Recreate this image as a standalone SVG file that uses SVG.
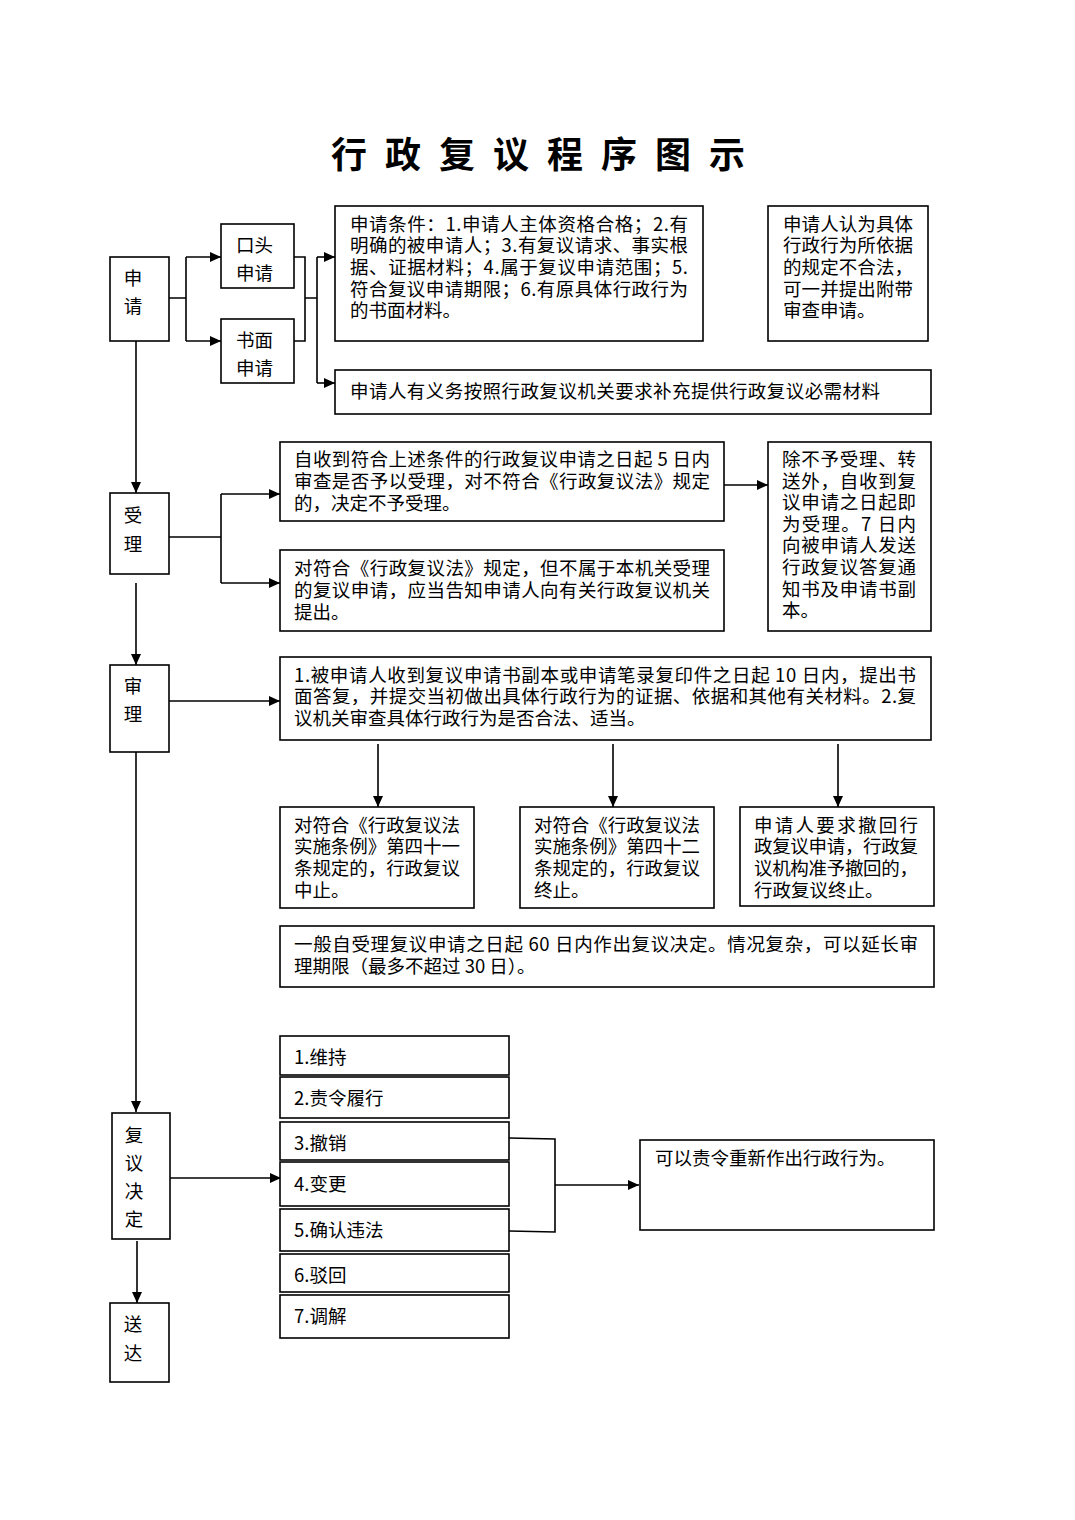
<svg xmlns="http://www.w3.org/2000/svg" width="1075" height="1520" viewBox="0 0 1075 1520">
<style>
.b{fill:#fff;stroke:#000;stroke-width:1.6}
.t{font-family:"Noto Sans CJK SC","Noto Sans",sans-serif;font-size:18.5px;fill:#000}
.c{stroke:#000;stroke-width:1.6;fill:none}
.title{font-family:"Noto Sans CJK SC",sans-serif;font-size:36px;font-weight:bold;fill:#000}
</style>
<defs>
<marker id="a" markerUnits="userSpaceOnUse" markerWidth="12" markerHeight="10" refX="11" refY="5" orient="auto">
<path d="M0,0 L11,5 L0,10 Z" fill="#000"/>
</marker>
</defs>
<rect width="1075" height="1520" fill="#fff"/>
<text class="title" x="331" y="168" textLength="414" lengthAdjust="spacing">行 政 复 议 程 序 图 示</text>

<g id="connectors">
<path class="c" d="M169,298 H186 M186,257 V341"/>
<path class="c" d="M186,257 H221" marker-end="url(#a)"/>
<path class="c" d="M186,341 H221" marker-end="url(#a)"/>
<path class="c" d="M294,257 H305 V341 H294 M305,298 H317 M317,257 V383"/>
<path class="c" d="M317,257 H335" marker-end="url(#a)"/>
<path class="c" d="M317,383 H335" marker-end="url(#a)"/>
<path class="c" d="M136,341 V493" marker-end="url(#a)"/>
<path class="c" d="M169,537 H221 M221,494 V583"/>
<path class="c" d="M221,494 H280" marker-end="url(#a)"/>
<path class="c" d="M221,583 H280" marker-end="url(#a)"/>
<path class="c" d="M724,485 H768" marker-end="url(#a)"/>
<path class="c" d="M136,583 V665" marker-end="url(#a)"/>
<path class="c" d="M169,701 H280" marker-end="url(#a)"/>
<path class="c" d="M378,744 V807" marker-end="url(#a)"/>
<path class="c" d="M613,744 V807" marker-end="url(#a)"/>
<path class="c" d="M838,744 V807" marker-end="url(#a)"/>
<path class="c" d="M136,752 V1112" marker-end="url(#a)"/>
<path class="c" d="M170,1178 H281" marker-end="url(#a)"/>
<path class="c" d="M509,1138 L555,1139 V1232 L509,1231"/>
<path class="c" d="M555,1185 H639" marker-end="url(#a)"/>
<path class="c" d="M137,1241 V1303" marker-end="url(#a)"/>
</g>

<g id="n-shenqing"><rect class="b" x="110" y="257" width="59" height="84"/>
<text class="t" x="133" y="285" text-anchor="middle">申</text><text class="t" x="133" y="313" text-anchor="middle">请</text></g>
<g id="n-koutou"><rect class="b" x="221" y="224" width="73" height="64"/>
<text class="t" x="236" y="252">口头</text><text class="t" x="236" y="280">申请</text></g>
<g id="n-shumian"><rect class="b" x="221" y="319" width="73" height="64"/>
<text class="t" x="236" y="347">书面</text><text class="t" x="236" y="375">申请</text></g>
<g id="n-tiaojian"><rect class="b" x="335" y="206" width="368" height="135"/>
<text class="t" x="350" y="231" textLength="338" lengthAdjust="spacing">申请条件：1.申请人主体资格合格；2.有</text>
<text class="t" x="350" y="252" textLength="338" lengthAdjust="spacing">明确的被申请人；3.有复议请求、事实根</text>
<text class="t" x="350" y="274" textLength="338" lengthAdjust="spacing">据、证据材料；4.属于复议申请范围；5.</text>
<text class="t" x="350" y="296" textLength="338" lengthAdjust="spacing">符合复议申请期限；6.有原具体行政行为</text>
<text class="t" x="350" y="317">的书面材料。</text></g>
<g id="n-fudai"><rect class="b" x="768" y="206" width="160" height="135"/>
<text class="t" x="783" y="231" textLength="130" lengthAdjust="spacing">申请人认为具体</text>
<text class="t" x="783" y="252" textLength="130" lengthAdjust="spacing">行政行为所依据</text>
<text class="t" x="783" y="274" textLength="130" lengthAdjust="spacing">的规定不合法，</text>
<text class="t" x="783" y="296" textLength="130" lengthAdjust="spacing">可一并提出附带</text>
<text class="t" x="783" y="317">审查申请。</text></g>
<g id="n-buchong"><rect class="b" x="335" y="370" width="596" height="44"/>
<text class="t" x="350" y="398" textLength="530" lengthAdjust="spacing">申请人有义务按照行政复议机关要求补充提供行政复议必需材料</text></g>

<g id="n-shouli"><rect class="b" x="110" y="493" width="59" height="81"/>
<text class="t" x="133" y="522" text-anchor="middle">受</text><text class="t" x="133" y="551" text-anchor="middle">理</text></g>
<g id="n-buyu"><rect class="b" x="280" y="442" width="444" height="79"/>
<text class="t" x="294" y="466" textLength="416" lengthAdjust="spacing">自收到符合上述条件的行政复议申请之日起 5 日内</text>
<text class="t" x="294" y="488" textLength="416" lengthAdjust="spacing">审查是否予以受理，对不符合《行政复议法》规定</text>
<text class="t" x="294" y="510">的，决定不予受理。</text></g>
<g id="n-gaozhi"><rect class="b" x="280" y="550" width="444" height="81"/>
<text class="t" x="294" y="575" textLength="416" lengthAdjust="spacing">对符合《行政复议法》规定，但不属于本机关受理</text>
<text class="t" x="294" y="597" textLength="416" lengthAdjust="spacing">的复议申请，应当告知申请人向有关行政复议机关</text>
<text class="t" x="294" y="619">提出。</text></g>
<g id="n-jishouli"><rect class="b" x="768" y="442" width="163" height="189"/>
<text class="t" x="782" y="466" textLength="134" lengthAdjust="spacing">除不予受理、转</text>
<text class="t" x="782" y="488" textLength="134" lengthAdjust="spacing">送外，自收到复</text>
<text class="t" x="782" y="509" textLength="134" lengthAdjust="spacing">议申请之日起即</text>
<text class="t" x="782" y="531" textLength="134" lengthAdjust="spacing">为受理。7 日内</text>
<text class="t" x="782" y="552" textLength="134" lengthAdjust="spacing">向被申请人发送</text>
<text class="t" x="782" y="574" textLength="134" lengthAdjust="spacing">行政复议答复通</text>
<text class="t" x="782" y="596" textLength="134" lengthAdjust="spacing">知书及申请书副</text>
<text class="t" x="782" y="617">本。</text></g>

<g id="n-shenli"><rect class="b" x="110" y="665" width="59" height="87"/>
<text class="t" x="133" y="693" text-anchor="middle">审</text><text class="t" x="133" y="721" text-anchor="middle">理</text></g>
<g id="n-dafu"><rect class="b" x="280" y="657" width="651" height="83"/>
<text class="t" x="294" y="682" textLength="622" lengthAdjust="spacing">1.被申请人收到复议申请书副本或申请笔录复印件之日起 10 日内，提出书</text>
<text class="t" x="294" y="703" textLength="622" lengthAdjust="spacing">面答复，并提交当初做出具体行政行为的证据、依据和其他有关材料。2.复</text>
<text class="t" x="294" y="725">议机关审查具体行政行为是否合法、适当。</text></g>
<g id="n-zhongzhi"><rect class="b" x="280" y="807" width="194" height="101"/>
<text class="t" x="294" y="832" textLength="166" lengthAdjust="spacing">对符合《行政复议法</text>
<text class="t" x="294" y="853" textLength="166" lengthAdjust="spacing">实施条例》第四十一</text>
<text class="t" x="294" y="875" textLength="166" lengthAdjust="spacing">条规定的，行政复议</text>
<text class="t" x="294" y="897">中止。</text></g>
<g id="n-zhongzhi2"><rect class="b" x="520" y="807" width="194" height="101"/>
<text class="t" x="534" y="832" textLength="166" lengthAdjust="spacing">对符合《行政复议法</text>
<text class="t" x="534" y="853" textLength="166" lengthAdjust="spacing">实施条例》第四十二</text>
<text class="t" x="534" y="875" textLength="166" lengthAdjust="spacing">条规定的，行政复议</text>
<text class="t" x="534" y="897">终止。</text></g>
<g id="n-chehui"><rect class="b" x="740" y="807" width="194" height="99"/>
<text class="t" x="754" y="832" textLength="164" lengthAdjust="spacing">申请人要求撤回行</text>
<text class="t" x="754" y="853" textLength="164" lengthAdjust="spacing">政复议申请，行政复</text>
<text class="t" x="754" y="875" textLength="164" lengthAdjust="spacing">议机构准予撤回的，</text>
<text class="t" x="754" y="897">行政复议终止。</text></g>
<g id="n-qixian"><rect class="b" x="280" y="926" width="654" height="61"/>
<text class="t" x="294" y="951" textLength="624" lengthAdjust="spacing">一般自受理复议申请之日起 60 日内作出复议决定。情况复杂，可以延长审</text>
<text class="t" x="294" y="973">理期限（最多不超过 30 日）。</text></g>

<g id="n-jueding"><rect class="b" x="112" y="1113" width="58" height="126"/>
<text class="t" x="134" y="1142" text-anchor="middle">复</text><text class="t" x="134" y="1170" text-anchor="middle">议</text>
<text class="t" x="134" y="1198" text-anchor="middle">决</text><text class="t" x="134" y="1226" text-anchor="middle">定</text></g>
<g id="n-i1"><rect class="b" x="280" y="1036" width="229" height="39"/><text class="t" x="294" y="1064">1.维持</text></g>
<g id="n-i2"><rect class="b" x="280" y="1077" width="229" height="41"/><text class="t" x="294" y="1105">2.责令履行</text></g>
<g id="n-i3"><rect class="b" x="280" y="1122" width="229" height="38"/><text class="t" x="294" y="1150">3.撤销</text></g>
<g id="n-i4"><rect class="b" x="280" y="1162" width="229" height="44"/><text class="t" x="294" y="1191">4.变更</text></g>
<g id="n-i5"><rect class="b" x="280" y="1209" width="229" height="42"/><text class="t" x="294" y="1237">5.确认违法</text></g>
<g id="n-i6"><rect class="b" x="280" y="1254" width="229" height="38"/><text class="t" x="294" y="1282">6.驳回</text></g>
<g id="n-i7"><rect class="b" x="280" y="1295" width="229" height="43"/><text class="t" x="294" y="1323">7.调解</text></g>
<g id="n-chongxin"><rect class="b" x="640" y="1140" width="294" height="90"/>
<text class="t" x="655" y="1165">可以责令重新作出行政行为。</text></g>
<g id="n-songda"><rect class="b" x="110" y="1303" width="59" height="79"/>
<text class="t" x="133" y="1331" text-anchor="middle">送</text><text class="t" x="133" y="1360" text-anchor="middle">达</text></g>
</svg>
